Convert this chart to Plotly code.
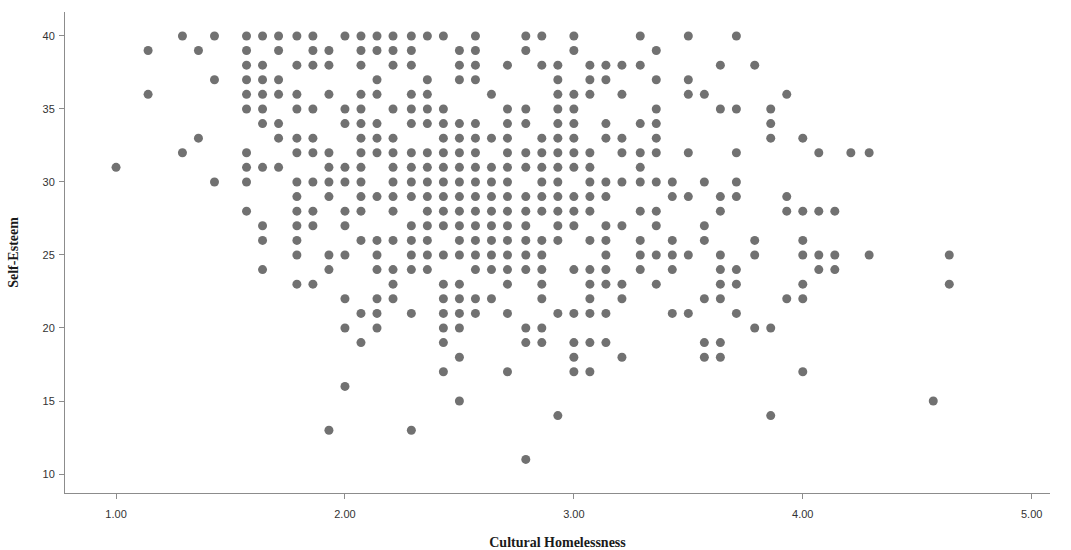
import plotly.graph_objects as go

# Cultural Homelessness scores observed at each Self-Esteem level
se40 = [1.29,1.43,1.57,1.64,1.71,1.79,1.86,2.00,2.07,2.14,2.21,2.29,2.36,2.43,2.57,2.79,2.86,3.00,3.29,3.50,3.71]
se39 = [1.14,1.36,1.57,1.71,1.86,1.93,2.07,2.14,2.21,2.29,2.50,2.57,2.79,3.00,3.36]
se38 = [1.57,1.64,1.79,1.86,1.93,2.07,2.21,2.29,2.50,2.57,2.71,2.86,2.93,3.07,3.14,3.21,3.29,3.64,3.79]
se37 = [1.43,1.57,1.64,1.71,2.14,2.36,2.50,2.57,2.93,3.07,3.14,3.36,3.50]
se36 = [1.14,1.57,1.64,1.71,1.79,1.93,2.07,2.14,2.29,2.36,2.64,2.93,3.00,3.07,3.21,3.50,3.57,3.93]
se35 = [1.57,1.64,1.79,1.86,2.00,2.07,2.21,2.29,2.36,2.43,2.71,2.79,2.93,3.00,3.36,3.64,3.71,3.86]
se34 = [1.64,1.71,2.00,2.07,2.14,2.29,2.36,2.43,2.50,2.57,2.71,2.79,2.93,3.00,3.14,3.29,3.36,3.86]
se33 = [1.36,1.71,1.79,1.86,2.07,2.14,2.21,2.43,2.50,2.57,2.64,2.71,2.86,2.93,3.00,3.14,3.21,3.36,3.86,4.00]
se32 = [1.29,1.57,1.79,1.86,1.93,2.07,2.14,2.21,2.29,2.36,2.43,2.50,2.57,2.71,2.79,2.86,2.93,3.00,3.07,3.21,3.29,3.36,3.50,3.71,4.07,4.21,4.29]
se31 = [1.00,1.57,1.64,1.71,1.93,2.00,2.07,2.21,2.29,2.36,2.43,2.50,2.57,2.64,2.71,2.79,2.86,2.93,3.00,3.07,3.29]
se30 = [1.43,1.57,1.79,1.86,1.93,2.00,2.07,2.21,2.29,2.36,2.43,2.50,2.57,2.64,2.71,2.86,2.93,3.07,3.14,3.21,3.29,3.36,3.43,3.57,3.71]
se29 = [1.79,1.93,2.07,2.14,2.21,2.29,2.36,2.43,2.50,2.57,2.64,2.71,2.79,2.86,2.93,3.00,3.07,3.14,3.43,3.50,3.64,3.71,3.93]
se28 = [1.57,1.79,1.86,2.00,2.07,2.21,2.36,2.43,2.50,2.57,2.64,2.71,2.79,2.86,2.93,3.00,3.07,3.29,3.36,3.64,3.93,4.00,4.07,4.14]
se27 = [1.64,1.79,1.86,2.00,2.29,2.36,2.43,2.50,2.57,2.64,2.71,2.79,2.93,3.00,3.14,3.21,3.36,3.57]
se26 = [1.64,1.79,2.07,2.14,2.21,2.29,2.36,2.50,2.57,2.64,2.71,2.79,2.86,2.93,3.07,3.14,3.29,3.43,3.57,3.79,4.00]
se25 = [1.79,1.93,2.00,2.14,2.29,2.36,2.43,2.50,2.57,2.64,2.71,2.79,2.86,3.14,3.29,3.36,3.43,3.50,3.64,3.79,4.00,4.07,4.14,4.29,4.64]
se24 = [1.64,1.93,2.14,2.21,2.29,2.36,2.57,2.64,2.71,2.79,2.86,3.00,3.07,3.14,3.29,3.43,3.64,3.71,4.07,4.14]
se23 = [1.79,1.86,2.21,2.43,2.50,2.71,2.86,3.07,3.14,3.21,3.36,3.64,3.71,4.00,4.64]
se22 = [2.00,2.14,2.21,2.43,2.50,2.57,2.64,2.86,3.07,3.21,3.57,3.64,3.93,4.00]
se21 = [2.07,2.14,2.29,2.43,2.50,2.57,2.71,2.93,3.00,3.07,3.14,3.43,3.50,3.71]
se20 = [2.00,2.14,2.43,2.50,2.79,2.86,3.79,3.86]
se19 = [2.07,2.43,2.79,2.86,3.00,3.07,3.14,3.57,3.64]
se18 = [2.50,3.00,3.21,3.57,3.64]
se17 = [2.43,2.71,3.00,3.07,4.00]
se16 = [2.00]
se15 = [2.50,4.57]
se14 = [2.93,3.86]
se13 = [1.93,2.29]
se11 = [2.79]

levels = {40: se40, 39: se39, 38: se38, 37: se37, 36: se36, 35: se35, 34: se34,
          33: se33, 32: se32, 31: se31, 30: se30, 29: se29, 28: se28, 27: se27,
          26: se26, 25: se25, 24: se24, 23: se23, 22: se22, 21: se21, 20: se20,
          19: se19, 18: se18, 17: se17, 16: se16, 15: se15, 14: se14, 13: se13,
          11: se11}

x_ticks = [1.00, 2.00, 3.00, 4.00, 5.00]
x_tick_text = ["1.00", "2.00", "3.00", "4.00", "5.00"]
y_ticks = [10, 15, 20, 25, 30, 35, 40]

xs, ys = [], []
for se, vals in levels.items():
    for v in vals:
        xs.append(v)
        ys.append(se)

fig = go.Figure(go.Scatter(
    x=xs, y=ys, mode="markers",
    marker=dict(color="#717171", size=9, line=dict(width=0)),
    hoverinfo="x+y", showlegend=False,
))

axis_font = dict(family="Liberation Sans, Arial, sans-serif", size=11, color="#333333")
title_font = dict(family="Liberation Serif, Times New Roman, serif", size=14, color="#1a1a1a")

fig.update_layout(
    width=1071, height=550,
    margin=dict(l=65, r=21, t=12, b=57),
    paper_bgcolor="white", plot_bgcolor="white",
    xaxis=dict(
        range=[0.777, 5.08], tickvals=x_ticks, ticktext=x_tick_text,
        showgrid=False, zeroline=False, showline=True, linecolor="#8c8c8c", linewidth=1,
        ticks="outside", ticklen=5, tickcolor="#8c8c8c", tickfont=axis_font,
        ticklabelstandoff=6, automargin=False,
        title=dict(text="<b>Cultural Homelessness</b>", font=title_font, standoff=22),
    ),
    yaxis=dict(
        range=[8.7, 41.64], tickvals=y_ticks,
        showgrid=False, zeroline=False, showline=True, linecolor="#8c8c8c", linewidth=1,
        ticks="outside", ticklen=5, tickcolor="#8c8c8c", tickfont=axis_font,
        ticklabelstandoff=2, automargin=False,
        title=dict(text="<b>Self-Esteem</b>", font=title_font, standoff=20),
    ),
)

fig.write_html("out.html")
